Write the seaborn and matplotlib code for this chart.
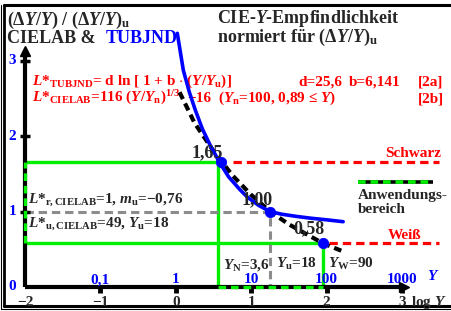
import matplotlib
matplotlib.use('Agg')
import matplotlib.pyplot as plt
import seaborn as sns
import numpy as np
import pandas as pd

# values: log Y and (dY/Y)/(dY/Y)u
tub_logY = [0.02, 0.10, 0.18, 0.26, 0.35, 0.45, 0.58, 0.70, 0.85, 0.95, 1.10, 1.25, 1.40, 1.60, 1.80, 2.00, 2.22]
tub_ratio = [3.36, 2.87, 2.58, 2.34, 2.10, 1.89, 1.65, 1.46, 1.29, 1.19, 1.08, 1.00, 0.965, 0.935, 0.91, 0.89, 0.865]
lab_logY = [0.05, 0.25, 0.50, 0.75, 1.00, 1.25, 1.50, 1.75, 1.95, 2.22]
lab_ratio = [2.58, 2.17, 1.80, 1.48, 1.22, 1.00, 0.83, 0.69, 0.58, 0.47]

# marked points
pt_logY = [0.60, 1.255, 1.954]
pt_ratio = [1.65, 1.00, 0.58]
pt_labels = ['1,65', '1,00', '0,58']

Y_N, Y_u, Y_W = 3.6, 18, 90

x_ticks = [-2, -1, 0, 1, 2, 3]
x_ticklabels = ['\u22122', '\u22121', '0', '1', '2', '3']
Y_ticks = [-1, 0, 1, 2, 3]
Y_ticklabels = ['0,1', '1', '10', '100', '1000']
y_ticks = [0, 1, 2, 3]

tub = pd.DataFrame({'logY': tub_logY, 'ratio': tub_ratio})
lab = pd.DataFrame({'logY': lab_logY, 'ratio': lab_ratio})
pts = pd.DataFrame({'logY': pt_logY, 'ratio': pt_ratio})

sns.set_style('white')
plt.rcParams['font.family'] = ['Liberation Serif', 'DejaVu Serif']
plt.rcParams['font.weight'] = 'bold'
plt.rcParams['mathtext.fontset'] = 'custom'
plt.rcParams['mathtext.rm'] = 'Liberation Serif:bold'
plt.rcParams['mathtext.it'] = 'Liberation Serif:italic:bold'
plt.rcParams['mathtext.bf'] = 'Liberation Serif:bold'
plt.rcParams['lines.scale_dashes'] = False

RED, BLUE, GREEN, GRAY = '#ff0000', '#0000ff', '#00ee00', '#8c8c8c'
MINUS = '\u2212'

fig = plt.figure(figsize=(4.52, 3.11), dpi=100)
ax = fig.add_axes([0, 0, 1, 1])
sx, sy = 75.4, 75.5
x0 = -2 - 25 / sx
y0 = -(311 - 287) / sy
ax.set_xlim(x0, x0 + 452 / sx)
ax.set_ylim(y0, y0 + 311 / sy)
ax.axis('off')

lN, lu, lW = np.log10(Y_N), np.log10(Y_u), np.log10(Y_W)

# frame
ax.plot([4.5 / 452, 4.5 / 452], [1 - 5 / 311, 1 - 305.5 / 311], color='black', lw=2, transform=ax.transAxes, clip_on=False)
ax.plot([4 / 452, 1], [1 - 5 / 311, 1 - 5 / 311], color='black', lw=2.2, transform=ax.transAxes, clip_on=False)
ax.plot([4 / 452, 1], [1 - 305.5 / 311, 1 - 305.5 / 311], color='black', lw=2.2, transform=ax.transAxes, clip_on=False)
ax.plot([0.8 / 452, 0.8 / 452], [1 - 5 / 311, 1 - 309 / 311], color='black', lw=0.8, transform=ax.transAxes, clip_on=False)
ax.plot([0.8 / 452, 1], [1 - 309.2 / 311, 1 - 309.2 / 311], color='black', lw=0.8, transform=ax.transAxes, clip_on=False)

# green rectangles
ax.plot([-2, lN, lN], [pt_ratio[0], pt_ratio[0], 0], color=GREEN, lw=2.4, zorder=2)
ax.plot([-2, lW, lW], [pt_ratio[2], pt_ratio[2], 0], color=GREEN, lw=2.4, zorder=2)

# gray guides
ax.plot([-2, lu, lu], [1, 1, 0], color=GRAY, lw=2.2, ls=(0, (6, 3.5)), zorder=2)

# red guides
ax.plot([0.76, 3.49], [pt_ratio[0], pt_ratio[0]], color=RED, lw=2.3, ls=(0, (6, 3.6)), zorder=2)
ax.plot([2.03, 3.49], [pt_ratio[2], pt_ratio[2]], color=RED, lw=2.3, ls=(0, (6, 3.6)), zorder=2)

# axes with arrows
ax.plot([-2, 3.0], [0, 0], color='black', lw=3, zorder=3, solid_capstyle='butt')
ax.plot([3.03], [0], marker='>', ms=7.5, color='black', zorder=3)
ax.plot([-2, -2], [0, 3.1], color='black', lw=3, zorder=3, solid_capstyle='butt')
ax.plot([-2], [3.13], marker='^', ms=7.5, color='black', zorder=3)
for t in x_ticks[1:]:
    ax.plot([t, t], [0, -0.075], color='black', lw=3.5, zorder=3, solid_capstyle='butt')
for t in y_ticks[1:]:
    ax.plot([-2.065, -1.935], [t, t], color='black', lw=2.5, zorder=3, solid_capstyle='butt')

# Anwendungsbereich dashes on the axes
ax.plot([lN, lW], [0, 0], color=GREEN, lw=2.4, ls=(0, (5.5, 3.5)), zorder=4)
ax.plot([-2, -2], [pt_ratio[2], pt_ratio[0]], color=GREEN, lw=2.4, ls=(0, (5.5, 3.5)), zorder=4)

# legend sample
ax.plot([2.42, 3.41], [1.39, 1.39], color='black', lw=2.6, zorder=4, solid_capstyle='butt')
ax.plot([2.42, 3.41], [1.39, 1.39], color=GREEN, lw=2.6, ls=(0, (5.5, 3.5)), zorder=4)

# curves
sns.lineplot(data=lab, x='logY', y='ratio', ax=ax, color='black', lw=3,
             linestyle=(0, (5.5, 3.5)), zorder=5, legend=False)
sns.lineplot(data=tub, x='logY', y='ratio', ax=ax, color=BLUE, lw=2.6, zorder=6, legend=False)
sns.scatterplot(data=pts, x='logY', y='ratio', ax=ax, color=BLUE, s=55, edgecolor=BLUE,
                zorder=7, legend=False)
ax.set_xlim(x0, x0 + 452 / sx)
ax.set_ylim(y0, y0 + 311 / sy)
ax.axis('off')

# tick labels
for t, lab_ in zip(x_ticks, x_ticklabels):
    ax.text(t, -0.25, lab_, ha='center', va='baseline', fontsize=11)
ax.text(3.12, -0.25, 'log $Y$', ha='left', va='baseline', fontsize=11)
for t, lab_ in zip(Y_ticks, Y_ticklabels):
    ax.text(t, 0.05, lab_, ha='center', va='baseline', fontsize=11, color=BLUE)
ax.text(3.42, 0.09, '$Y$', ha='center', va='baseline', fontsize=11, color=BLUE)
for t in y_ticks:
    ax.text(-2.17, t, str(t), ha='center', va='center', fontsize=11, color=BLUE)

# titles
ax.text(-2.24, 3.465, r'($\Delta Y/Y$) / ($\Delta Y/Y$)$_{\rm u}$', fontsize=13, va='baseline')
ax.text(-2.24, 3.23, 'CIELAB & ', fontsize=13, va='baseline')
ax.text(-0.926, 3.23, 'TUBJND', fontsize=13, va='baseline', color=BLUE)
ax.text(0.546, 3.50, 'CIE-$Y$-Empfindlichkeit', fontsize=13, va='baseline')
ax.text(0.546, 3.245, r'normiert für ($\Delta Y/Y$)$_{\rm u}$', fontsize=13, va='baseline')

# formulas
ax.text(-1.91, 2.675, r'$L$*$_{\rm TUBJND}$= d ln [ 1 + b $\cdot$ ($Y/Y_{\rm u}$)]',
        fontsize=11, va='baseline', color=RED)
ax.text(1.623, 2.675, 'd=25,6', fontsize=11, va='baseline', color=RED)
ax.text(2.297, 2.675, 'b=6,141', fontsize=11, va='baseline', color=RED)
ax.text(3.212, 2.675, '[2a]', fontsize=11, va='baseline', color=RED)
ax.text(-1.91, 2.45, r'$L$*$_{\rm CIELAB}$=116 ($Y/Y_{\rm n}$)$^{1/3}$ ',
        fontsize=11, va='baseline', color=RED)
ax.text(0.15, 2.45, MINUS + '16', fontsize=11, va='baseline', color=RED)
ax.text(0.56, 2.45, r'($Y_{\rm n}$=100, 0,89 ≤ $Y$)', fontsize=11, va='baseline', color=RED)
ax.text(3.212, 2.45, '[2b]', fontsize=11, va='baseline', color=RED)

# point labels
for (lx, ly), s in zip([(0.414, 1.72), (1.077, 1.10), (1.767, 0.715)], pt_labels):
    ax.text(lx, ly, s, fontsize=13, ha='center', va='baseline', zorder=8)

ax.text(-1.96, 1.11, r'$L$*$_{\rm r,CIELAB}$=1, $m_{\rm u}$=' + MINUS + '0,76', fontsize=11, va='baseline')
ax.text(-1.96, 0.795, r'$L$*$_{\rm u,CIELAB}$=49, $Y_{\rm u}$=18', fontsize=11, va='baseline')
ax.text(0.626, 0.25, r'$Y_{\rm N}$=3,6', fontsize=11, va='baseline')
ax.text(1.329, 0.25, r'$Y_{\rm u}$=18', fontsize=11, va='baseline')
ax.text(2.018, 0.25, r'$Y_{\rm W}$=90', fontsize=11, va='baseline')

ax.text(3.52, 1.72, 'Schwarz', fontsize=11, ha='right', va='baseline', color=RED)
ax.text(2.81, 0.64, 'Weiß', fontsize=11, ha='left', va='baseline', color=RED)
ax.text(2.42, 1.17, 'Anwendungs-', fontsize=11, va='baseline')
ax.text(2.42, 0.98, 'bereich', fontsize=11, va='baseline')

fig.savefig('out.png', dpi=100)
